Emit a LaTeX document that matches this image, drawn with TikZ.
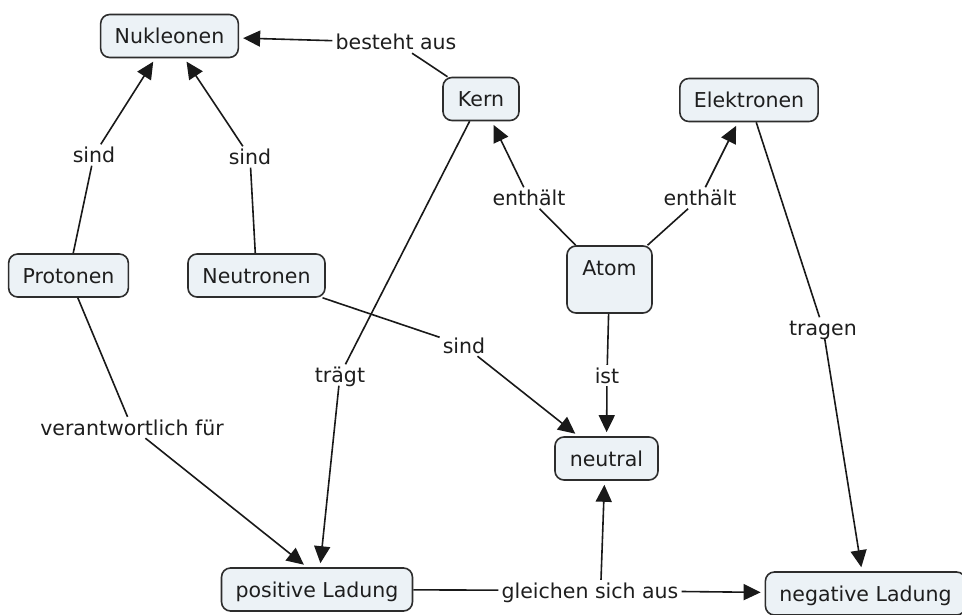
\documentclass[tikz,border=0pt]{standalone}
\usepackage{fontspec}
\setmainfont{DejaVu Sans}
\usetikzlibrary{arrows.meta,calc}
\definecolor{boxfill}{RGB}{236,242,246}
\definecolor{boxline}{RGB}{45,45,45}
\definecolor{txt}{RGB}{30,30,30}
\begin{document}
\begin{tikzpicture}[x=1pt,y=-1pt,
  every node/.style={font=\fontsize{20.5}{24}\selectfont, text=txt, text height=15pt, text depth=0pt},
  cbox/.style={draw=boxline, fill=boxfill, line width=1.6pt, rounded corners=9pt, minimum height=43pt, inner xsep=14pt, inner ysep=4pt},
  lbl/.style={inner sep=3pt},
  conn/.style={draw=black!90, line width=1.6pt},
  arr/.style={conn, -{Triangle[length=17pt,width=16pt]}, shorten >=4pt}]
\useasboundingbox (0,0) rectangle (962,615);
\fill[white] (0,0) rectangle (962,615);
% concept boxes
\node[cbox, minimum width=135pt] (nuk) at (169.5,36) {Nukleonen};
\node[cbox, minimum width=76pt] (kern) at (481,99) {Kern};
\node[cbox, minimum width=138pt] (elek) at (749,100) {Elektronen};
\node[cbox, minimum width=119pt] (prot) at (68.5,275.5) {Protonen};
\node[cbox, minimum width=137pt] (neut) at (256.5,275.5) {Neutronen};
\node[cbox, minimum width=85pt, text depth=24pt, inner ysep=14pt] (atom) at (609.5,279.5) {Atom};
\node[cbox, minimum width=103pt] (neutral) at (606.5,458.5) {neutral};
\node[cbox, minimum width=190pt] (pos) at (317,589.5) {positive Ladung};
\node[cbox, minimum width=191pt] (neg) at (865.5,593.5) {negative Ladung};
% linking phrases
\node[lbl] (bes) at (396,42.5) {besteht aus};
\node[lbl] (sindL) at (94,155) {sind};
\node[lbl] (sindR) at (250,157) {sind};
\node[lbl] (entL) at (529,198) {enthält};
\node[lbl] (entR) at (700,198) {enthält};
\node[lbl] (tragen) at (823,328) {tragen};
\node[lbl] (sindM) at (464,345.5) {sind};
\node[lbl] (traegt) at (340,375) {trägt};
\node[lbl] (ist) at (607,375.5) {ist};
\node[lbl] (ver) at (132,427.5) {verantwortlich für};
\node[lbl] (gl) at (590,590.5) {gleichen sich aus};
% connectors
\draw[conn] (kern) -- (bes);
\draw[arr] (bes) -- (nuk);
\draw[conn] (prot) -- (sindL);
\draw[arr] (sindL) -- (nuk);
\draw[conn] (neut) -- (sindR);
\draw[arr] (sindR) -- (nuk);
\draw[conn] (atom) -- (entL);
\draw[arr] (entL) -- (kern);
\draw[conn] (atom) -- (entR);
\draw[arr] (entR) -- (elek);
\draw[conn] (elek) -- (tragen);
\draw[arr] (tragen) -- (neg);
\draw[conn] (atom) -- (ist);
\draw[arr] (ist) -- (neutral);
\draw[conn] (neut) -- (sindM);
\draw[arr] (sindM) -- (neutral);
\draw[conn] (kern) -- (traegt);
\draw[arr] (traegt) -- ($(pos.north)+(3,0)$);
\draw[conn] (prot) -- (ver);
\draw[arr] (ver) -- ($(pos.north)+(-10,0)$);
\draw[conn] (pos) -- (gl);
\draw[arr] (gl) -- (neg);
\draw[arr] ($(gl.north)+(11,0)$) -- ($(neutral.south)+(-2,0)$);
\end{tikzpicture}
\end{document}
